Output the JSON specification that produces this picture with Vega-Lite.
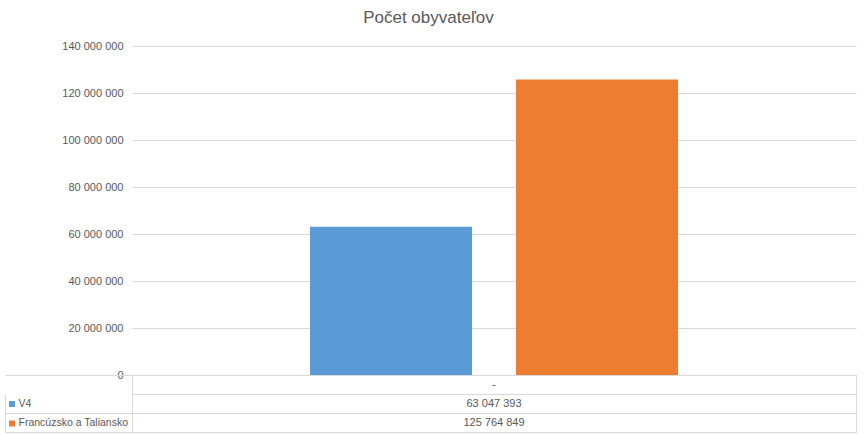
{
  "$schema": "https://vega.github.io/schema/vega-lite/v6.json",
  "padding": {"left": 0, "top": 9, "right": 12, "bottom": 3},
  "autosize": {"type": "pad"},
  "background": "white",
  "bounds": "flush",
  "config": {
    "locale": {"number": {"decimal": ",", "thousands": " ", "grouping": [3], "currency": ["", " €"]}},
    "font": "Liberation Sans"
  },
  "title": {"text": "Počet obyvateľov", "fontSize": 17, "font": "Liberation Sans", "fontWeight": "normal", "color": "#595959", "anchor": "middle", "offset": 13},
  "data": {"values": [
    {"category": "-", "series": "V4", "value": 63047393},
    {"category": "-", "series": "Francúzsko a Taliansko", "value": 125764849}
  ]},
  "spacing": 0,
  "resolve": {"scale": {"x": "independent", "y": "independent", "color": "independent"}, "legend": {"color": "independent"}, "axis": {"x": "independent", "y": "independent"}},
  "vconcat": [
    {
      "width": 724,
      "height": 329,
      "view": {"stroke": null},
      "mark": {"type": "bar"},
      "encoding": {
        "x": {"field": "category", "type": "nominal", "axis": null, "scale": {"paddingInner": 0, "paddingOuter": 0.4837}},
        "xOffset": {"field": "series", "type": "nominal", "sort": ["V4", "Francúzsko a Taliansko"], "scale": {"paddingInner": 0.2136, "paddingOuter": 0}},
        "y": {"field": "value", "type": "quantitative",
          "scale": {"domain": [0, 140000000], "nice": false},
          "axis": {"values": [0, 20000000, 40000000, 60000000, 80000000, 100000000, 120000000, 140000000],
            "format": ",d", "title": null, "domain": false, "ticks": false, "labelPadding": 9,
            "minExtent": 131, "maxExtent": 131, "grid": true, "gridColor": "#D9D9D9", "gridWidth": 1,
            "labelColor": "#595959", "labelFont": "Liberation Sans", "labelFontSize": 11}},
        "color": {"field": "series", "type": "nominal", "sort": ["V4", "Francúzsko a Taliansko"],
          "scale": {"domain": ["V4", "Francúzsko a Taliansko"], "range": ["#5B9BD5", "#ED7D31"]}, "legend": null}
      }
    },
    {
      "width": 724,
      "height": 57,
      "view": {"stroke": "#D9D9D9", "strokeWidth": 1},
      "encoding": {
        "x": {"field": "category", "type": "nominal", "axis": null, "scale": {"paddingInner": 0, "paddingOuter": 0}},
        "y": {"field": "series", "type": "nominal",
          "scale": {"domain": ["-", "V4", "Francúzsko a Taliansko"], "paddingInner": 0, "paddingOuter": 0},
          "axis": {"title": null, "offset": 127, "domain": true, "domainColor": "#D9D9D9", "domainDash": [0, 19, 38, 100],
            "ticks": true, "tickBand": "extent", "tickSize": -127,
            "tickColor": {"condition": {"test": "datum.value === '-'", "value": "transparent"}, "value": "#D9D9D9"},
            "grid": true, "gridColor": "#D9D9D9",
            "labelExpr": "datum.value === '-' ? '' : datum.value",
            "labelAlign": "left", "labelBaseline": "middle", "labelPadding": 114,
            "labelColor": "#595959", "labelFont": "Liberation Sans", "labelFontSize": 10.5,
            "labelLimit": 200,
            "minExtent": 4, "maxExtent": 4}}
      },
      "layer": [
        {
          "mark": {"type": "square", "filled": true, "opacity": 0, "size": 1},
          "encoding": {
            "color": {"field": "series", "type": "nominal",
              "scale": {"domain": ["V4", "Francúzsko a Taliansko"], "range": ["#5B9BD5", "#ED7D31"]},
              "legend": {"orient": "none", "legendX": -123, "legendY": 26, "title": null,
                "symbolType": "square", "symbolSize": 36, "symbolOpacity": 1, "symbolStrokeWidth": 0,
                "labelExpr": "''", "labelFontSize": 1, "rowPadding": 13.5, "padding": 0}}
          }
        },
        {
          "mark": {"type": "text", "color": "#595959", "fontSize": 11, "font": "Liberation Sans"},
          "encoding": {
            "text": {"field": "value", "type": "quantitative", "format": ",d"}
          }
        },
        {
          "transform": [{"aggregate": [{"op": "count", "as": "n"}], "groupby": ["category"]}],
          "mark": {"type": "text", "color": "#595959", "fontSize": 11, "font": "Liberation Sans"},
          "encoding": {
            "y": {"field": "category", "type": "nominal"},
            "text": {"field": "category", "type": "nominal"}
          }
        }
      ]
    }
  ]
}
